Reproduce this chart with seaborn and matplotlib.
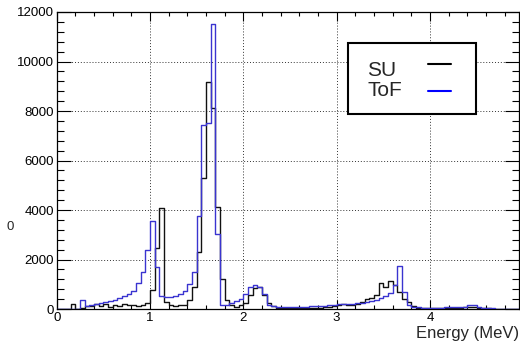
import numpy as np
import pandas as pd
import matplotlib
matplotlib.use("Agg")
import matplotlib.pyplot as plt
from matplotlib.patches import Rectangle
from matplotlib.lines import Line2D
from matplotlib.ticker import MultipleLocator
import seaborn as sns

# ---- data (0.05 MeV bins from 0 to 5 MeV) ----
bin_width = 0.05
bin_lo = np.round(np.arange(0, 5.0, bin_width), 2)

su_counts = [
    0, 0, 0, 220, 10, 40, 130, 120, 190, 120,            # 0.00-0.45
    220, 90, 160, 110, 200, 180, 150, 120, 160, 250,     # 0.50-0.95
    770, 2450, 4100, 300, 160, 140, 150, 170, 360, 900,  # 1.00-1.45
    2290, 5280, 9180, 8110, 4110, 1200, 370, 150, 80, 150,  # 1.50-1.95
    260, 560, 860, 880, 560, 250, 120, 60, 40, 40,       # 2.00-2.45
    40, 30, 40, 50, 40, 50, 60, 70, 90, 120,             # 2.50-2.95
    180, 190, 150, 170, 220, 300, 400, 460, 560, 1040,   # 3.00-3.45
    900, 1120, 950, 680, 420, 300, 120, 60, 40, 40,      # 3.50-3.95
    40, 30, 40, 40, 50, 50, 60, 70, 70, 70,              # 4.00-4.45
    60, 40, 30, 20, 10, 5, 0, 0, 0, 0,                   # 4.50-4.95
]

tof_counts = [
    0, 0, 0, 0, 0, 364, 120, 150, 190, 230,              # 0.00-0.45
    280, 330, 380, 440, 520, 620, 720, 1040, 1500, 2380, # 0.50-0.95
    3550, 1710, 520, 470, 470, 540, 620, 740, 1000, 1500,  # 1.00-1.45
    3770, 7430, 7500, 11500, 3050, 180, 170, 230, 330, 420,  # 1.50-1.95
    620, 900, 950, 900, 600, 170, 120, 100, 100, 90,     # 2.00-2.45
    90, 90, 100, 100, 110, 110, 120, 140, 160, 180,      # 2.50-2.95
    190, 200, 210, 220, 240, 260, 290, 330, 380, 440,    # 3.00-3.45
    530, 640, 950, 1740, 700, 150, 90, 70, 60, 60,       # 3.50-3.95
    50, 60, 60, 70, 70, 70, 80, 90, 150, 150,            # 4.00-4.45
    80, 60, 50, 30, 20, 10, 5, 0, 0, 0,                  # 4.50-4.95
]

legend_labels = ["SU", "ToF"]
x_title = "Energy (MeV)"
y_title = "0"

# ---- style ----
sns.set_style("ticks")
plt.rcParams["font.family"] = ["Liberation Sans", "DejaVu Sans"]

W, H = 520, 346
fig = plt.figure(figsize=(W / 100, H / 100), dpi=100)
fig.patch.set_facecolor("white")

ax_l, ax_r, ax_t, ax_b = 56.7, 519.0, 12.0, 309.0
ax = fig.add_axes([ax_l / W, 1 - ax_b / H, (ax_r - ax_l) / W, (ax_b - ax_t) / H])
ax.set_facecolor("white")

centers = bin_lo + bin_width / 2
df = pd.DataFrame({"energy": centers, "su": su_counts, "tof": tof_counts})

sns.histplot(data=df, x="energy", weights="su", binwidth=bin_width, binrange=(0, 5),
             element="step", fill=False, color="#111111", linewidth=1.0, ax=ax, zorder=3)
sns.histplot(data=df, x="energy", weights="tof", binwidth=bin_width, binrange=(0, 5),
             element="step", fill=False, color="#3a34d0", linewidth=1.0, ax=ax, zorder=4)

px_per_mev = 93.3
ax.set_xlim(0, (ax_r - ax_l) / px_per_mev)
ax.set_ylim(0, 12000)

ax.xaxis.set_major_locator(MultipleLocator(1))
ax.xaxis.set_minor_locator(MultipleLocator(0.2))
ax.yaxis.set_major_locator(MultipleLocator(2000))
ax.yaxis.set_minor_locator(MultipleLocator(400))

ax.tick_params(axis="both", which="both", direction="in", top=True, right=True,
               width=0.8, colors="black", labelsize=9.5, pad=2)
ax.tick_params(axis="x", which="major", length=6.5)
ax.tick_params(axis="x", which="minor", length=3.2)
ax.tick_params(axis="y", which="major", length=10)
ax.tick_params(axis="y", which="minor", length=5)

ax.grid(True, which="major", color="#333333", linestyle=(0, (1, 2)), linewidth=0.7, zorder=1)
ax.set_axisbelow(True)
for s in ax.spines.values():
    s.set_color("black")
    s.set_linewidth(0.9)

ax.set_xlabel(x_title, fontsize=12, ha="right", va="top")
ax.xaxis.set_label_coords((519.5 - ax_l) / (ax_r - ax_l), (ax_b - 326) / (ax_b - ax_t))
ax.set_ylabel(y_title, fontsize=9.5, rotation=0, ha="center", va="center")
ax.yaxis.set_label_coords((10 - ax_l) / (ax_r - ax_l), (ax_b - 227) / (ax_b - ax_t))

# ---- legend box (ROOT style: label then line sample) ----
def fx(px):
    return px / W

def fy(py):
    return 1 - py / H

box = Rectangle((fx(348), fy(114)), fx(476) - fx(348), fy(43) - fy(114),
                transform=fig.transFigure, facecolor="white", edgecolor="black",
                linewidth=1.5, zorder=10)
fig.add_artist(box)
fig.text(fx(367), fy(75.5), legend_labels[0], fontsize=15, ha="left", va="baseline", zorder=11)
fig.text(fx(367), fy(96.5), legend_labels[1], fontsize=15, ha="left", va="baseline", zorder=11)
fig.add_artist(Line2D([fx(428), fx(451)], [fy(64), fy(64)], transform=fig.transFigure,
                      color="black", linewidth=1.5, zorder=11))
fig.add_artist(Line2D([fx(428), fx(451)], [fy(90.5), fy(90.5)], transform=fig.transFigure,
                      color="#0000ff", linewidth=1.5, zorder=11))

fig.savefig("out.png", dpi=100, facecolor="white")
